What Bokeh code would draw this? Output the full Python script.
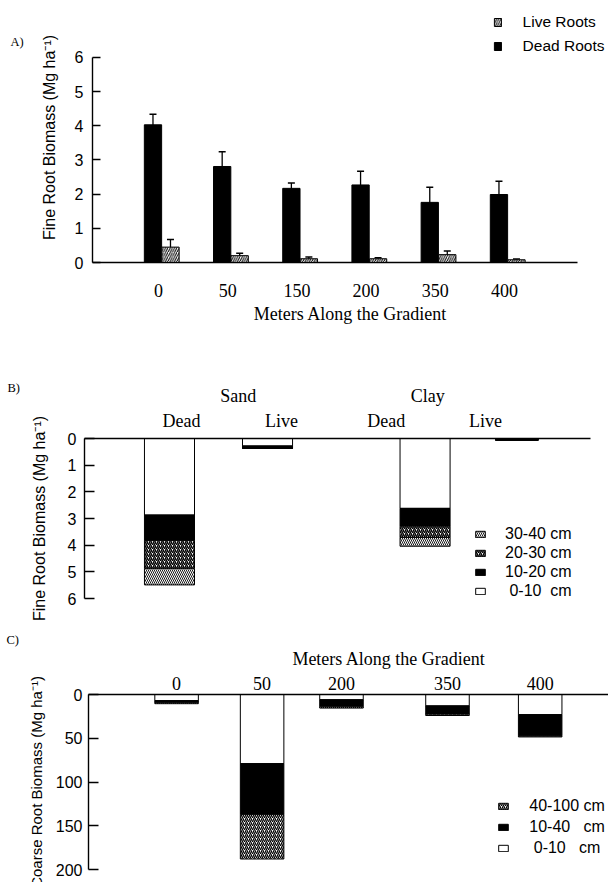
import numpy as np
from bokeh.plotting import figure
from bokeh.models import (ColumnDataSource, Range1d, FixedTicker, Legend, LegendItem,
                          Label, Whisker, TeeHead, LinearAxis)
from bokeh.layouts import column, row
from bokeh.embed import file_html
from bokeh.resources import INLINE

# ---------------- data: panel A (fine roots along the gradient) ----------------
meters_a = ["0", "50", "150", "200", "350", "400"]
dead_roots = [4.03, 2.81, 2.17, 2.27, 1.76, 1.99]
dead_err = [0.31, 0.43, 0.16, 0.40, 0.44, 0.39]
live_roots = [0.45, 0.20, 0.11, 0.11, 0.23, 0.08]
live_err = [0.22, 0.07, 0.05, 0.03, 0.11, 0.02]

# ---------------- data: panel B (fine roots by soil and depth) ----------------
soil_groups = ["Sand", "Clay"]
root_states = ["Dead", "Live", "Dead", "Live"]
fine_depth_labels = ["\u00a00-10\u00a0\u00a0cm", "10-20 cm", "20-30 cm", "30-40 cm"]
fine_0_10 = [2.87, 0.28, 2.62, 0.02]
fine_10_20 = [0.96, 0.09, 0.67, 0.04]
fine_20_30 = [1.04, 0.0, 0.42, 0.0]
fine_30_40 = [0.62, 0.0, 0.33, 0.0]

# ---------------- data: panel C (coarse roots by depth) ----------------
meters_c = ["0", "50", "200", "350", "400"]
coarse_depth_labels = ["\u00a00-10\u00a0\u00a0\u00a0cm", "10-40\u00a0\u00a0\u00a0cm", "40-100 cm"]
coarse_0_10 = [7, 79, 6, 13, 23]
coarse_10_40 = [2, 58, 8, 9.5, 24]
coarse_40_100 = [1.5, 51, 1.5, 1.5, 1.5]

panel_tags = ["A)", "B)", "C)"]

# ---------------- styling / layout constants ----------------
PAGE_W, PAGE_H = 608, 882
TAG_W = 24
MAIN_W = PAGE_W - TAG_W
SANS = "Liberation Sans"
SERIF = "Liberation Serif"
BLACK = "#000000"


def base_fig(h, xr, yr, left, top, bottom):
    f = figure(width=MAIN_W, height=h, x_range=xr, y_range=yr, output_backend="svg",
               toolbar_location=None, x_axis_location=None, y_axis_location=None,
               min_border_left=left, min_border_right=0, min_border_top=top,
               min_border_bottom=bottom)
    f.xgrid.visible = False
    f.ygrid.visible = False
    f.outline_line_color = None
    f.background_fill_color = "white"
    f.border_fill_color = "white"
    return f


def style_axis(ax, font, size, tick_in=0, standoff=6):
    ax.axis_line_color = BLACK
    ax.axis_line_width = 1.4
    ax.major_tick_in = tick_in
    ax.major_tick_out = 0
    ax.minor_tick_in = 0
    ax.minor_tick_out = 0
    ax.major_tick_line_color = BLACK
    ax.major_tick_line_width = 1.3
    ax.major_label_text_font = font
    ax.major_label_text_font_size = size
    ax.major_label_text_color = BLACK
    ax.major_label_standoff = standoff
    ax.axis_label_text_font_style = "normal"
    ax.axis_label_text_color = BLACK


def make_legend(items, loc, gw, gh, standoff, lh, spacing, size):
    return Legend(items=items, location=loc, orientation="vertical",
                  glyph_width=gw, glyph_height=gh, label_standoff=standoff,
                  label_height=lh, spacing=spacing, padding=0, margin=0,
                  label_text_font=SANS, label_text_font_size=size,
                  label_text_color=BLACK, border_line_color=None,
                  background_fill_alpha=0)


# ======================= Panel letters (left strip) =======================
tags = figure(width=TAG_W, height=PAGE_H, x_range=Range1d(0, TAG_W),
              y_range=Range1d(PAGE_H, 0), output_backend="svg", toolbar_location=None,
              x_axis_location=None, y_axis_location=None, min_border=0)
tags.xgrid.visible = False
tags.ygrid.visible = False
tags.outline_line_color = None
for txt, (tx, ty) in zip(panel_tags, [(10, 41), (7, 387.5), (6, 639)]):
    tags.add_layout(Label(x=tx, y=ty, text=txt, text_font=SERIF, text_font_size="12.5px",
                          text_baseline="middle", text_align="left", text_color=BLACK))

# ======================= Panel A =======================
HA = 345
xa_lo, xa_hi, xa_axis_end = -0.954, 6.503, 6.055
pa = base_fig(HA, Range1d(xa_lo, xa_hi), Range1d(0, 7.317), 92 - TAG_W, 12, 83)

xs_a = np.arange(len(meters_a), dtype=float)
bw_a = 0.25
dead_x = xs_a - 0.08
live_x = xs_a + 0.173
src_dead = ColumnDataSource(dict(x=dead_x, top=dead_roots,
                                 lower=np.array(dead_roots) - np.array(dead_err),
                                 upper=np.array(dead_roots) + np.array(dead_err)))
src_live = ColumnDataSource(dict(x=live_x, top=live_roots,
                                 lower=np.array(live_roots) - np.array(live_err),
                                 upper=np.array(live_roots) + np.array(live_err)))
r_dead = pa.vbar(x="x", top="top", bottom=0, width=bw_a, source=src_dead,
                 fill_color=BLACK, line_color=BLACK, line_width=1)
r_live = pa.vbar(x="x", top="top", bottom=0, width=bw_a, source=src_live,
                 fill_color="white", line_color=BLACK, line_width=1,
                 hatch_pattern="/", hatch_scale=4.5, hatch_weight=1.0, hatch_color=BLACK)
for src in (src_dead, src_live):
    pa.add_layout(Whisker(base="x", lower="lower", upper="upper", source=src,
                          line_color=BLACK, line_width=1.3, lower_head=None,
                          upper_head=TeeHead(size=7, line_color=BLACK, line_width=1.5)))

xa = LinearAxis(ticker=FixedTicker(ticks=list(xs_a)),
                major_label_overrides={float(i): m for i, m in zip(xs_a, meters_a)},
                bounds=(xa_lo, xa_axis_end), axis_label="Meters Along the Gradient")
style_axis(xa, SERIF, "18px", tick_in=0, standoff=21)
xa.axis_label_text_font = SERIF
xa.axis_label_text_font_size = "18px"
xa.axis_label_standoff = 4
pa.add_layout(xa, "below")

ya = LinearAxis(ticker=FixedTicker(ticks=[0, 1, 2, 3, 4, 5, 6]), bounds=(0, 6),
                axis_label="Fine Root Biomass (Mg ha\u207b\u00b9)")
style_axis(ya, SANS, "16px", tick_in=8, standoff=9)
ya.axis_label_text_font = SANS
ya.axis_label_text_font_size = "16px"
ya.axis_label_standoff = 14
pa.add_layout(ya, "left")

pa.add_layout(make_legend([LegendItem(label="Live Roots", renderers=[r_live]),
                           LegendItem(label="Dead Roots", renderers=[r_dead])],
                          (400.6, 207.2), 9, 10, 21, 17, 6, "15.5px"))

# ======================= Panel B =======================
HB = 277
pb = base_fig(HB, Range1d(0, 10.155), Range1d(6, 0), 84 - TAG_W, 93, 24)

bar_x_b = [1.647, 3.547, 6.60, 8.38]
bar_w_b = [0.97, 0.97, 0.97, 0.83]
state_ticks = [1.88, 3.82, 5.85, 7.77]
soil_ticks = [2.98, 6.65]

layers_b = [fine_0_10, fine_10_20, fine_20_30, fine_30_40]
styles_b = [
    dict(fill_color="white"),
    dict(fill_color=BLACK),
    dict(fill_color="white", hatch_pattern="/", hatch_scale=4.0, hatch_weight=1.5, hatch_color=BLACK),
    dict(fill_color="white", hatch_pattern="\\", hatch_scale=4.0, hatch_weight=0.9, hatch_color=BLACK),
]
renderers_b = []
cum = np.zeros(len(bar_x_b))
for vals, st in zip(layers_b, styles_b):
    v = np.array(vals, dtype=float)
    src = ColumnDataSource(dict(x=bar_x_b, w=bar_w_b, bottom=cum.copy(), top=cum + v))
    r = pb.vbar(x="x", width="w", bottom="bottom", top="top", source=src,
                line_color=BLACK, line_width=1, **st)
    renderers_b.append(r)
    cum = cum + v

xb1 = LinearAxis(ticker=FixedTicker(ticks=state_ticks),
                 major_label_overrides=dict(zip(state_ticks, root_states)),
                 bounds=(0, 9.81))
style_axis(xb1, SERIF, "18px", tick_in=0, standoff=8)
pb.add_layout(xb1, "above")
xb2 = LinearAxis(ticker=FixedTicker(ticks=soil_ticks),
                 major_label_overrides=dict(zip(soil_ticks, soil_groups)))
style_axis(xb2, SERIF, "18px", tick_in=0, standoff=2)
xb2.axis_line_color = None
pb.add_layout(xb2, "above")

yb = LinearAxis(ticker=FixedTicker(ticks=[0, 1, 2, 3, 4, 5, 6]), bounds=(0, 6),
                axis_label="Fine Root Biomass (Mg ha\u207b\u00b9)")
style_axis(yb, SANS, "16px", tick_in=10, standoff=8)
yb.axis_label_text_font = SANS
yb.axis_label_text_font_size = "16px"
yb.axis_label_standoff = 17
pb.add_layout(yb, "left")

pb.add_layout(make_legend([LegendItem(label=fine_depth_labels[3], renderers=[renderers_b[3]]),
                           LegendItem(label=fine_depth_labels[2], renderers=[renderers_b[2]]),
                           LegendItem(label=fine_depth_labels[1], renderers=[renderers_b[1]]),
                           LegendItem(label=fine_depth_labels[0], renderers=[renderers_b[0]])],
                          (390, -1.5), 12, 8, 19, 16, 1, "16px"))

# ======================= Panel C =======================
HC = 260
pc = base_fig(HC, Range1d(0, 10.154), Range1d(200, 0), 82 - TAG_W, 72, 13)

bar_x_c = [1.72, 3.39, 4.94, 7.01, 8.82]
bar_w_c = 0.85
title_x_c = [5.87]
layers_c = [coarse_0_10, coarse_10_40, coarse_40_100]
styles_c = [
    dict(fill_color="white"),
    dict(fill_color=BLACK),
    dict(fill_color="white", hatch_pattern="/", hatch_scale=4.0, hatch_weight=1.3, hatch_color=BLACK),
]
renderers_c = []
cum = np.zeros(len(bar_x_c))
for vals, st in zip(layers_c, styles_c):
    v = np.array(vals, dtype=float)
    src = ColumnDataSource(dict(x=bar_x_c, bottom=cum.copy(), top=cum + v))
    r = pc.vbar(x="x", width=bar_w_c, bottom="bottom", top="top", source=src,
                line_color=BLACK, line_width=1, **st)
    renderers_c.append(r)
    cum = cum + v

xc = LinearAxis(ticker=FixedTicker(ticks=bar_x_c),
                major_label_overrides=dict(zip(bar_x_c, meters_c)))
style_axis(xc, SERIF, "18px", tick_in=0, standoff=5)
pc.add_layout(xc, "above")
xc_title = LinearAxis(ticker=FixedTicker(ticks=title_x_c),
                      major_label_overrides={title_x_c[0]: "Meters Along the Gradient"})
style_axis(xc_title, SERIF, "18px", tick_in=0, standoff=5)
xc_title.axis_line_color = None
pc.add_layout(xc_title, "above")

yc = LinearAxis(ticker=FixedTicker(ticks=[0, 50, 100, 150, 200]), bounds=(0, 200),
                axis_label="Coarse Root Biomass (Mg ha\u207b\u00b9)")
style_axis(yc, SANS, "16px", tick_in=10, standoff=6)
yc.axis_label_text_font = SANS
yc.axis_label_text_font_size = "15px"
yc.axis_label_standoff = 8
pc.add_layout(yc, "left")

pc.add_layout(make_legend([LegendItem(label=coarse_depth_labels[2], renderers=[renderers_c[2]]),
                           LegendItem(label=coarse_depth_labels[1], renderers=[renderers_c[1]]),
                           LegendItem(label=coarse_depth_labels[0], renderers=[renderers_c[0]])],
                          (409.3, 12.2), 12, 8, 20, 17, 3, "16px"))

layout = row(tags, column(row(pa), row(pb), row(pc), spacing=0), spacing=0)
open("out.html", "w").write(file_html(layout, INLINE, title="Root biomass"))
